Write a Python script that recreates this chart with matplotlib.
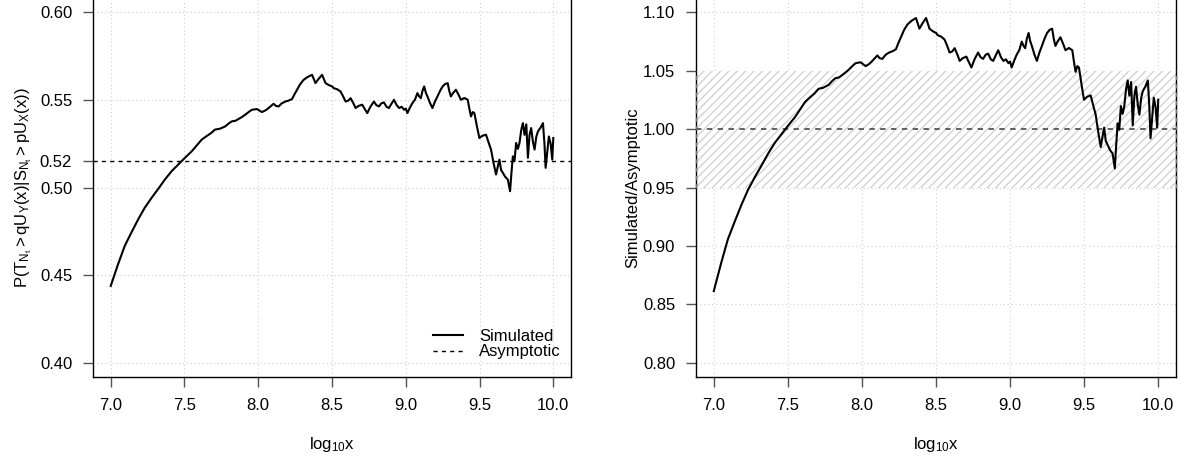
import numpy as np
import matplotlib
matplotlib.use('Agg')
import matplotlib.pyplot as plt
from matplotlib.patches import Rectangle
import matplotlib.transforms as mtransforms

plt.rcParams['font.family'] = ['Liberation Sans', 'DejaVu Sans']
plt.rcParams['mathtext.fontset'] = 'custom'
plt.rcParams['mathtext.rm'] = 'Liberation Sans'
plt.rcParams['mathtext.it'] = 'Liberation Sans:italic'
plt.rcParams['hatch.linewidth'] = 1.0

# log10(x) y probabilidad simulada
logx = [7.000, 7.050, 7.095, 7.140, 7.186, 7.231, 7.277, 7.322, 7.367, 7.413,
        7.458, 7.503, 7.549, 7.594, 7.617, 7.650, 7.680, 7.707, 7.740, 7.776,
        7.800, 7.821, 7.845, 7.866, 7.890, 7.912, 7.935, 7.957, 7.991, 8.025,
        8.050, 8.070, 8.104, 8.120, 8.138, 8.160, 8.184, 8.205, 8.229, 8.245,
        8.263, 8.285, 8.308, 8.335, 8.365, 8.388, 8.410, 8.433, 8.456, 8.480,
        8.501, 8.512, 8.535, 8.558, 8.575, 8.592, 8.610, 8.626, 8.645, 8.660,
        8.680, 8.705, 8.720, 8.739, 8.760, 8.784, 8.800, 8.818, 8.835, 8.852,
        8.870, 8.886, 8.905, 8.920, 8.938, 8.955, 8.972, 8.989, 9.000, 9.011,
        9.028, 9.045, 9.062, 9.079, 9.090, 9.102, 9.113, 9.125, 9.136, 9.147,
        9.165, 9.181, 9.198, 9.215, 9.232, 9.250, 9.267, 9.284, 9.295, 9.306,
        9.322, 9.340, 9.357, 9.374, 9.397, 9.420, 9.431, 9.442, 9.454, 9.465,
        9.482, 9.499, 9.520, 9.544, 9.560, 9.578, 9.595, 9.612, 9.624, 9.635,
        9.646, 9.658, 9.675, 9.692, 9.700, 9.707, 9.716, 9.726, 9.737, 9.748,
        9.760, 9.771, 9.783, 9.794, 9.805, 9.817, 9.828, 9.839, 9.850, 9.862,
        9.873, 9.885, 9.896, 9.913, 9.930, 9.940, 9.948, 9.959, 9.970, 9.982,
        9.993, 10.000]
prob = [0.4439, 0.4563, 0.4667, 0.4743, 0.4818, 0.4885, 0.4941, 0.4992, 0.5045, 0.5093,
        0.5131, 0.5169, 0.5206, 0.5250, 0.5273, 0.5293, 0.5310, 0.5330, 0.5335, 0.5348,
        0.5365, 0.5377, 0.5380, 0.5390, 0.5402, 0.5415, 0.5430, 0.5443, 0.5447, 0.5430,
        0.5440, 0.5453, 0.5477, 0.5465, 0.5462, 0.5480, 0.5490, 0.5495, 0.5504, 0.5530,
        0.5557, 0.5590, 0.5614, 0.5630, 0.5642, 0.5595, 0.5620, 0.5642, 0.5595, 0.5583,
        0.5576, 0.5566, 0.5560, 0.5547, 0.5520, 0.5490, 0.5495, 0.5509, 0.5480, 0.5453,
        0.5465, 0.5472, 0.5450, 0.5424, 0.5460, 0.5490, 0.5470, 0.5462, 0.5480, 0.5485,
        0.5460, 0.5453, 0.5480, 0.5500, 0.5470, 0.5453, 0.5460, 0.5443, 0.5450, 0.5424,
        0.5455, 0.5481, 0.5500, 0.5538, 0.5520, 0.5509, 0.5550, 0.5576, 0.5540, 0.5519,
        0.5480, 0.5453, 0.5490, 0.5519, 0.5550, 0.5576, 0.5590, 0.5595, 0.5550, 0.5519,
        0.5540, 0.5557, 0.5530, 0.5500, 0.5510, 0.5500, 0.5450, 0.5405, 0.5430, 0.5424,
        0.5350, 0.5282, 0.5295, 0.5301, 0.5260, 0.5216, 0.5140, 0.5074, 0.5120, 0.5159,
        0.5100, 0.5083, 0.5060, 0.5045, 0.5010, 0.4979, 0.5080, 0.5178, 0.5150, 0.5254,
        0.5220, 0.5254, 0.5330, 0.5367, 0.5300, 0.5360, 0.5169, 0.5300, 0.5339, 0.5260,
        0.5216, 0.5290, 0.5320, 0.5340, 0.5367, 0.5250, 0.5112, 0.5200, 0.5291, 0.5250,
        0.5159, 0.5282]
asym = 0.5153   # valor asintotico (etiquetado 0.52)
band = (0.95, 1.05)

logx = np.array(logx)
prob = np.array(prob)
ratio = prob / asym

xticks = [7.0, 7.5, 8.0, 8.5, 9.0, 9.5, 10.0]
yticks_l = [0.40, 0.45, 0.50, 0.55, 0.60]
yticks_r = [0.80, 0.85, 0.90, 0.95, 1.00, 1.05, 1.10]

fig = plt.figure(figsize=(11.81, 4.61), dpi=100)
ax1 = fig.add_axes([93/1181, 84/461, 478/1181, 379/461])
ax2 = fig.add_axes([696/1181, 84/461, 480/1181, 379/461])

grid_kw = dict(color='#d0d0d0', lw=0.8, ls=(0, (1, 2.5)), zorder=0)
FS = 12

def estilo(ax, yt, ylim):
    ax.set_xlim(6.88, 10.12)
    ax.set_ylim(*ylim)
    ax.set_xticks(xticks)
    ax.set_xticklabels(['%.1f' % v for v in xticks])
    for v in xticks:
        ax.axvline(v, **grid_kw)
    for v in yt:
        ax.axhline(v, **grid_kw)
    ax.tick_params(axis='both', direction='out', length=7, width=1,
                   color='#555555', labelsize=FS, pad=8)
    for s in ax.spines.values():
        s.set_linewidth(1)
    ax.set_xlabel(r'$\mathregular{log_{10}x}$', fontsize=FS, labelpad=16)

# Panel izquierdo
estilo(ax1, yticks_l, (0.392, 0.608))
ax1.set_yticks(yticks_l + [asym])
ax1.set_yticklabels(['%.2f' % v for v in yticks_l] + ['0.52'])
ax1.plot(logx, prob, color='black', lw=1.5, label='Simulated', zorder=3)
ax1.axhline(asym, color='black', lw=1, ls=(0, (3, 3)), label='Asymptotic', zorder=2)
ax1.set_ylabel(r'$\mathregular{P(T_{N_t} > qU_Y(x)|S_{N_t} > pU_X(x))}$', fontsize=FS, labelpad=4)
leg = ax1.legend(loc='lower right', frameon=False, fontsize=FS, handlelength=1.8,
                 handletextpad=1.0, borderaxespad=0.2, labelspacing=0.05,
                 bbox_to_anchor=(1.0, 0.02))

# Panel derecho
estilo(ax2, yticks_r, (0.788, 1.112))
ax2.set_yticks(yticks_r)
ax2.set_yticklabels(['%.2f' % v for v in yticks_r])
trans = mtransforms.blended_transform_factory(ax2.transAxes, ax2.transData)
ax2.add_patch(Rectangle((0, band[0]), 1, band[1] - band[0], transform=trans,
                        facecolor='white', edgecolor='#d2d2d2', hatch='////',
                        lw=0, zorder=1.5, clip_on=False))
for xa in (0, 1):
    ax2.plot([xa, xa], band, transform=trans, color='#777777', lw=1,
             ls=(0, (3, 3)), zorder=4, clip_on=False)
ax2.axhline(1.0, color='#555555', lw=1.3, ls=(0, (3, 3)), zorder=2)
ax2.plot(logx, ratio, color='black', lw=1.5, zorder=3)
ax2.set_ylabel('Simulated/Asymptotic', fontsize=FS, labelpad=2)

fig.savefig('out.png', dpi=100)
